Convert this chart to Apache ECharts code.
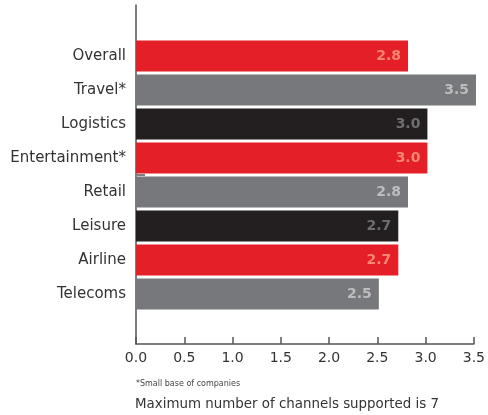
<!DOCTYPE html>
<html>
<head>
<meta charset="utf-8">
<script src="https://cdn.jsdelivr.net/npm/echarts@6/dist/echarts.min.js"></script>
<style>
  html, body { margin: 0; padding: 0; background: #ffffff; }
  #chart { width: 488px; height: 415px; }
</style>
</head>
<body>
<div id="chart"></div>
<script>
// Sectors, listed top to bottom
const categories = ['Overall', 'Travel*', 'Logistics', 'Entertainment*', 'Retail', 'Leisure', 'Airline', 'Telecoms'];
// Average number of channels supported per sector
const values = [2.8, 3.5, 3.0, 3.0, 2.8, 2.7, 2.7, 2.5];
// Bar colour group for each sector
const colourGroups = ['red', 'grey', 'black', 'red', 'grey', 'black', 'red', 'grey'];
const axisTicks = [0, 0.5, 1, 1.5, 2, 2.5, 3, 3.5];

const footnote = '*Small base of companies';
const caption = 'Maximum number of channels supported is 7';

const palette = {
  red:   { bar: '#e41f27', label: '#f5866f' },
  grey:  { bar: '#77787b', label: '#bdbdbf' },
  black: { bar: '#231f20', label: '#6e6e70' }
};

const FONT = '"DejaVu Sans", sans-serif';
const AXIS_MIN = axisTicks[0];
const AXIS_MAX = axisTicks[axisTicks.length - 1];

const barData = values.map((v, i) => ({
  value: v,
  itemStyle: { color: palette[colourGroups[i]].bar },
  label: { color: palette[colourGroups[i]].label }
}));

const chart = echarts.init(document.getElementById('chart'), null, { renderer: 'canvas' });

chart.setOption({
  animation: false,
  backgroundColor: '#ffffff',
  textStyle: { fontFamily: FONT },
  title: [
    {
      text: footnote, left: 131, top: 375,
      textStyle: { fontFamily: FONT, fontSize: 8, fontWeight: 'normal', color: '#444' }
    },
    {
      text: caption, left: 130, top: 393,
      textStyle: { fontFamily: FONT, fontSize: 13.4, fontWeight: 'normal', color: '#333' }
    }
  ],
  grid: [
    // frame: value scale and the tall left axis line
    { left: 136, right: 12, top: 5, bottom: 71 },
    // bars
    { left: 136, right: 12, top: 39, height: 272 }
  ],
  xAxis: [
    {
      gridIndex: 0, type: 'value', min: AXIS_MIN, max: AXIS_MAX, interval: 0.5,
      axisLine: { show: true, lineStyle: { color: '#555', width: 1.5 } },
      axisTick: { show: true, inside: true, length: 7, lineStyle: { color: '#555', width: 1.5 } },
      axisLabel: {
        fontFamily: FONT, fontSize: 14, color: '#333', margin: 7,
        formatter: v => v.toFixed(1)
      },
      splitLine: { show: false }
    },
    {
      gridIndex: 1, type: 'value', min: AXIS_MIN, max: AXIS_MAX, show: false
    }
  ],
  yAxis: [
    {
      gridIndex: 0, type: 'value', min: 0, max: 1,
      axisLine: { show: true, lineStyle: { color: '#555', width: 1.5 } },
      axisTick: { show: false }, axisLabel: { show: false }, splitLine: { show: false }
    },
    {
      gridIndex: 1, type: 'category', data: categories, inverse: true,
      axisLine: { show: false }, axisTick: { show: false },
      axisLabel: { fontFamily: FONT, fontSize: 15, color: '#333', margin: 10 }
    }
  ],
  graphic: [
    {
      type: 'line', z: 10,
      shape: { x1: 137, y1: 175, x2: 145, y2: 175 },
      style: { stroke: '#555', lineWidth: 1.5 }
    }
  ],
  series: [
    {
      type: 'bar', xAxisIndex: 1, yAxisIndex: 1,
      data: barData, barWidth: 31,
      label: {
        show: true, position: 'insideRight', distance: 7,
        fontFamily: FONT, fontSize: 14, fontWeight: 'bold',
        formatter: p => p.value.toFixed(1)
      }
    }
  ]
});
</script>
</body>
</html>
